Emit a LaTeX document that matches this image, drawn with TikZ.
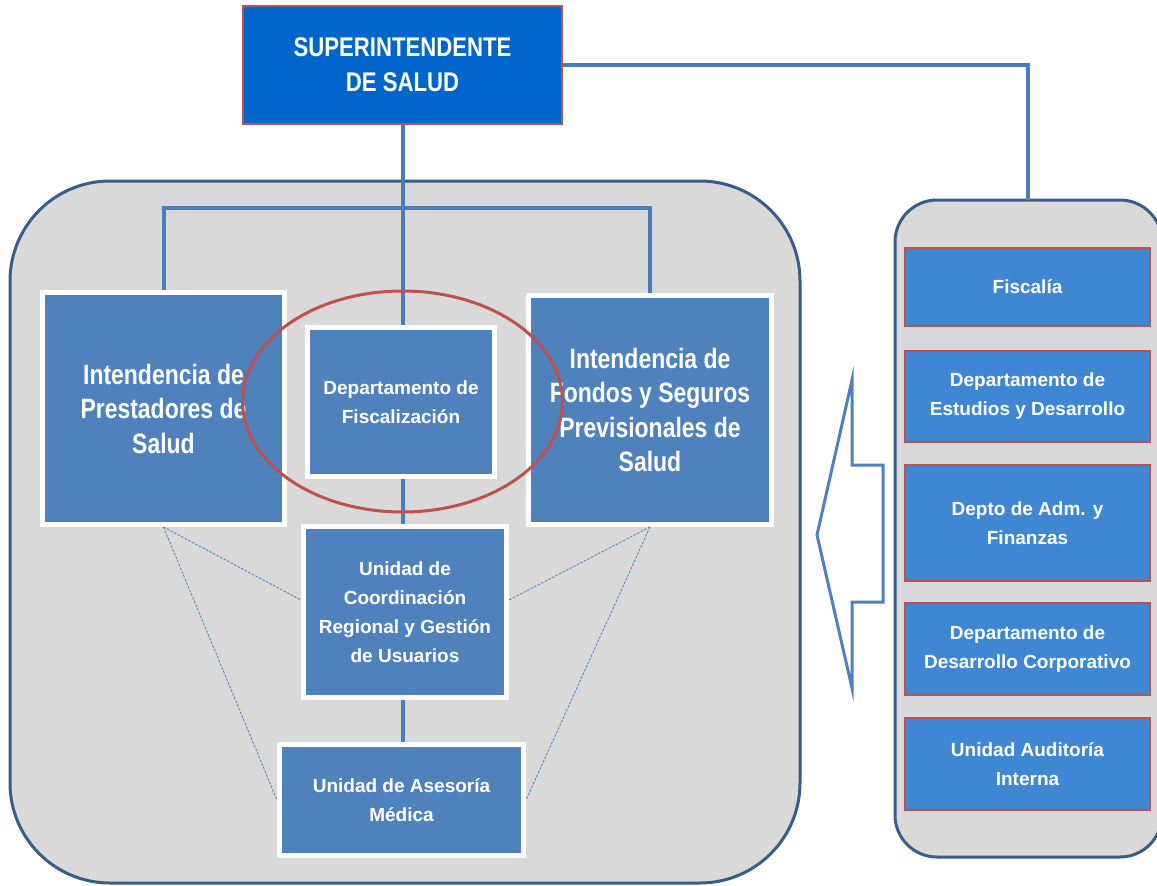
\documentclass[tikz,border=0pt]{standalone}
\usepackage{fontspec}
\setmainfont{Liberation Sans}
\newfontfamily\narrowfont[FakeStretch=0.82]{Liberation Sans}
\usetikzlibrary{shadows}
\definecolor{supblue}{HTML}{0066CC}
\definecolor{sideblue}{HTML}{3F86D3}
\definecolor{boxblue}{HTML}{4F81BD}
\definecolor{linkblue}{HTML}{4A7EBB}
\definecolor{frameblue}{HTML}{385D8A}
\definecolor{panelgray}{HTML}{D9D9D9}
\definecolor{ringred}{HTML}{C0504D}
\tikzset{
  supbox/.style={draw=ringred, line width=1.2pt, fill=supblue, text=white, inner sep=0pt, align=center,
    font=\narrowfont\bfseries\fontsize{27}{35}\selectfont},
  sidebox/.style={draw=ringred, line width=1.2pt, fill=sideblue, text=white, inner sep=0pt, align=center,
    minimum width=245pt, font=\bfseries\fontsize{19}{29}\selectfont},
  whitebox/.style={draw=white, line width=5pt, fill=boxblue, text=white, inner sep=0pt, align=center,
    drop shadow={shadow xshift=1.5pt, shadow yshift=-1.5pt, fill=black, opacity=0.25}},
  bigtext/.style={font=\narrowfont\bfseries\fontsize{28}{34.5}\selectfont},
  smalltext/.style={font=\bfseries\fontsize{19}{29}\selectfont},
  conn/.style={draw=linkblue, line width=4pt},
  dashconn/.style={draw=linkblue, line width=0.8pt, dashed, dash pattern=on 2.5pt off 1.5pt},
  panel/.style={draw=frameblue, line width=3pt, fill=panelgray}
}
\begin{document}
\begin{tikzpicture}[x=1pt,y=-1pt]
\useasboundingbox (0,0) rectangle (1157,886);
\clip (0,0) rectangle (1157,886);
\fill[white] (0,0) rectangle (1157,886);

% containers
\draw[panel, rounded corners=100pt] (10,181) rectangle (800,883);
\draw[panel, rounded corners=42pt] (895,200) rectangle (1162,857);
\coordinate (rtop) at (1028,200);

% hollow arrow
\draw[draw=boxblue, line width=3pt, line join=miter]
  (852,380) -- (852,465) -- (883,465) -- (883,602) -- (852,602) -- (852,688) -- (817,535) -- cycle;

% top node
\node[supbox, minimum width=319pt, minimum height=118pt] (sup) at (402.5,65) {SUPERINTENDENTE\\DE SALUD};

% connectors
\coordinate (bar) at (403,208);
\draw[conn] (sup.east) -| (rtop);

% inner boxes
\node[whitebox, bigtext, minimum width=242pt, minimum height=232pt] (prest) at (163.5,408.5)
  {Intendencia de\\Prestadores de\\Salud};
\node[whitebox, smalltext, minimum width=187pt, minimum height=149pt] (fisc) at (401,402)
  {Departamento de\\Fiscalización};
\node[whitebox, bigtext, minimum width=243pt, minimum height=229pt] (fondos) at (650,410)
  {Intendencia de\\Fondos y Seguros\\Previsionales de\\Salud};
\node[whitebox, smalltext, minimum width=203pt, minimum height=171pt] (coord) at (405,612)
  {Unidad de\\Coordinación\\Regional y Gestión\\de Usuarios};
\node[whitebox, smalltext, minimum width=244pt, minimum height=111pt] (ases) at (401.5,800)
  {Unidad de Asesoría\\Médica};

\draw[conn] (sup.south) -- (sup.south |- fisc.north);
\draw[conn] (prest.north) |- (bar) -| (fondos.north);
\draw[conn] (sup.south |- fisc.south) -- (sup.south |- coord.north);
\draw[conn] (sup.south |- coord.south) -- (sup.south |- ases.north);

\draw[dashconn] (prest.south) -- ([yshift=12pt]coord.west);
\draw[dashconn] (prest.south) -- (ases.west);
\draw[dashconn] (fondos.south) -- ([yshift=12pt]coord.east);
\draw[dashconn] (fondos.south) -- (ases.east);

% side boxes
\node[sidebox, minimum height=78pt] (fiscalia) at (1027.5,287) {Fiscalía};
\node[sidebox, minimum height=91pt] (estudios) at (1027.5,396.5) {Departamento de\\Estudios y Desarrollo};
\node[sidebox, minimum height=116pt] (adm) at (1027.5,523) {Depto de Adm. y\\Finanzas};
\node[sidebox, minimum height=92pt] (corp) at (1027.5,649) {Departamento de\\Desarrollo Corporativo};
\node[sidebox, minimum height=92pt] (audit) at (1027.5,764) {Unidad Auditoría\\Interna};

% highlight ellipse
\draw[ringred, line width=3pt] (402.5,401.5) ellipse [x radius=160pt, y radius=110.5pt];
\end{tikzpicture}
\end{document}
